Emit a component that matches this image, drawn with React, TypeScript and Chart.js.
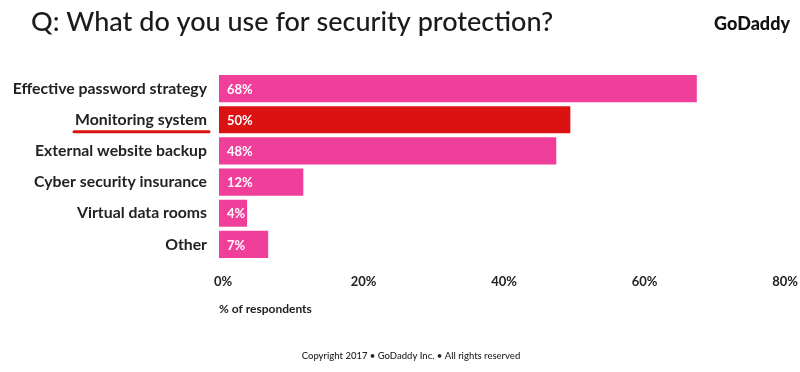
import React, { useEffect, useRef } from "react";
import { Chart, registerables } from "chart.js";

Chart.register(...registerables);

const categories = [
  "Effective password strategy",
  "Monitoring system",
  "External website backup",
  "Cyber security insurance",
  "Virtual data rooms",
  "Other",
];
const values = [68, 50, 48, 12, 4, 7];
const highlighted = "Monitoring system";
const xTickValues = [0, 20, 40, 60, 80];
const titleText = "Q: What do you use for security protection?";
const logoText = "GoDaddy";
const axisTitle = "% of respondents";
const footerText = "Copyright 2017 • GoDaddy Inc. • All rights reserved";

const PINK = "#F03F9A";
const RED = "#DC1111";
const FONT = "Lato, 'Open Sans', sans-serif";

const overlayPlugin = {
  id: "overlay",
  afterDraw(chart: any) {
    const ctx = chart.ctx;
    const x = chart.scales.x;
    const y = chart.scales.y;
    ctx.save();
    // title
    ctx.fillStyle = "#1b1b1b";
    ctx.font = `500 27px ${FONT}`;
    ctx.textAlign = "left";
    ctx.textBaseline = "middle";
    ctx.fillText(titleText, 31, 22);
    // logo
    ctx.font = `900 18px ${FONT}`;
    ctx.textAlign = "right";
    ctx.fillStyle = "#111";
    ctx.fillText(logoText, 790, 24);
    // footer
    ctx.font = `500 9.5px ${FONT}`;
    ctx.textAlign = "center";
    ctx.fillStyle = "#222";
    ctx.fillText(footerText, 411, 356);
    // value labels
    ctx.font = `700 13px ${FONT}`;
    ctx.textAlign = "left";
    ctx.fillStyle = "#fff";
    values.forEach((v, i) => {
      ctx.fillText(`${v}%`, x.getPixelForValue(0) + 8, y.getPixelForValue(i) + 1);
    });
    // underline for highlighted category
    const hi = categories.indexOf(highlighted);
    if (hi >= 0) {
      const py = y.getPixelForValue(hi) + 12;
      ctx.strokeStyle = RED;
      ctx.lineWidth = 3;
      ctx.lineCap = "round";
      ctx.beginPath();
      ctx.moveTo(74, py);
      ctx.lineTo(209, py);
      ctx.stroke();
    }
    ctx.restore();
  },
};

export default function App() {
  const ref = useRef<HTMLCanvasElement>(null);
  useEffect(() => {
    document.body.style.margin = "0";
    const chart = new Chart(ref.current!, {
      type: "bar",
      data: {
        labels: categories,
        datasets: [
          {
            data: values,
            backgroundColor: categories.map((c) => (c === highlighted ? RED : PINK)),
            borderWidth: 0,
            barPercentage: 0.87,
            categoryPercentage: 1,
          },
        ],
      },
      options: {
        indexAxis: "y",
        responsive: false,
        animation: false,
        layout: { padding: { top: 73, bottom: 56, left: 0, right: 11 } },
        plugins: {
          legend: { display: false },
          tooltip: { enabled: false },
          title: { display: false },
        },
        scales: {
          x: {
            min: 0,
            max: 80,
            afterBuildTicks(scale: any) {
              scale.ticks = xTickValues.map((v) => ({ value: v }));
            },
            afterFit(scale: any) {
              scale.height = 56;
            },
            grid: { display: false },
            border: { display: false },
            ticks: {
              padding: 6,
              labelOffset: 4,
              color: "#222",
              font: { family: FONT, size: 13, weight: "700" },
              callback: (v: any) => `${v}%`,
              maxRotation: 0,
            },
            title: {
              display: true,
              text: axisTitle,
              align: "start",
              color: "#222",
              font: { family: FONT, size: 12, weight: "700" },
              padding: { top: 0, bottom: 0 },
            },
          },
          y: {
            afterFit(scale: any) {
              scale.width = 219;
            },
            grid: { display: false },
            border: { display: false },
            ticks: {
              padding: 4,
              color: "#222",
              font: { family: FONT, size: 15.8, weight: "700" },
            },
          },
        },
      },
      plugins: [overlayPlugin],
    });
    return () => chart.destroy();
  }, []);
  return <canvas ref={ref} width={800} height={372} style={{ display: "block" }} />;
}
